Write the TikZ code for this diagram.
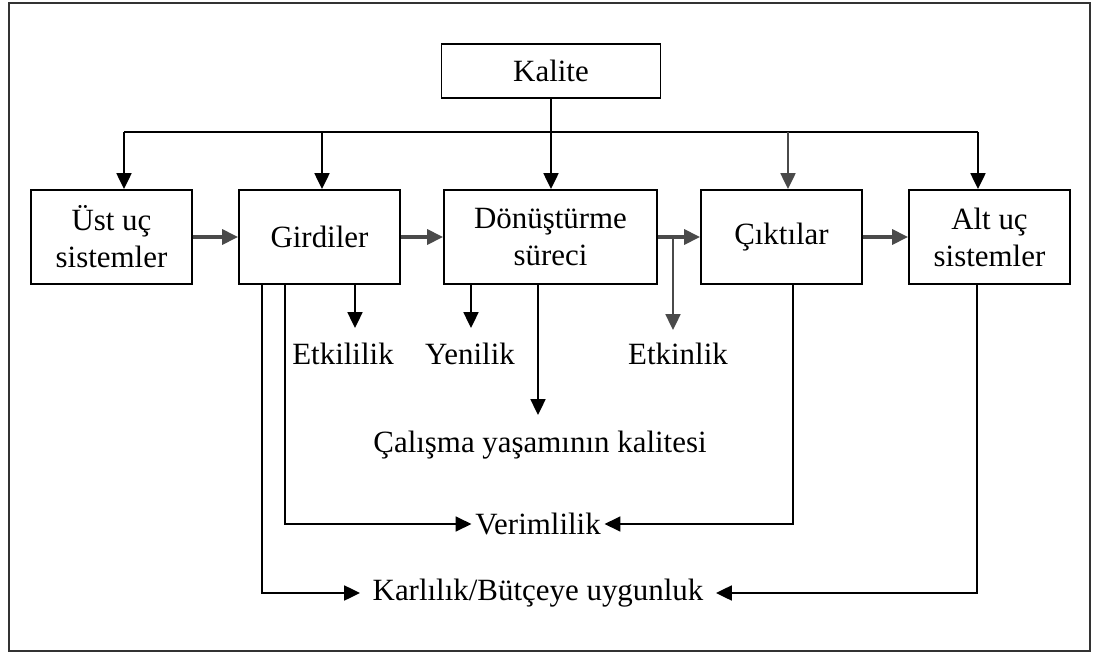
\documentclass[tikz,border=0pt]{standalone}
\usepackage{fontspec}
\setmainfont{Liberation Serif}
\usetikzlibrary{positioning,arrows.meta,calc}
\definecolor{flowGray}{HTML}{4A4A4A}
\definecolor{frameGray}{HTML}{333333}
\tikzset{
  sysbox/.style={draw, line width=1.1pt, minimum width=3.22cm,
                 minimum height=1.88cm, align=center, inner sep=2pt,
                 font=\fontsize{17.6}{21}\selectfont},
  lbl/.style={inner sep=2pt, font=\fontsize{17.6}{21}\selectfont},
  conn/.style={line width=1.1pt},
  arr/.style={conn, -{Triangle[length=9pt, width=8.5pt]}},
  flowarr/.style={line width=1.8pt, flowGray, -{Triangle[length=9pt, width=8.5pt]}},
}

\begin{document}
\begin{tikzpicture}[x=0.02cm, y=-0.02cm]
\useasboundingbox (0,0) rectangle (1096,659);
\draw[line width=1.5pt, frameGray] (9,3) rectangle (1090,651);

%% Boxes
\node[sysbox, minimum width=4.38cm, minimum height=1.08cm] (kalite) at (551,71) {Kalite};
\node[sysbox] (ust)   at (111.5,237) {Üst uç\\sistemler};
\node[sysbox] (gir)   at (319.5,237) {Girdiler};
\node[sysbox, minimum width=4.26cm] (donus) at (550.5,237) {Dönüştürme\\süreci};
\node[sysbox] (cikti) at (781.5,237) {Çıktılar};
\node[sysbox] (alt)   at (989.5,237) {Alt uç\\sistemler};

%% Labels
\node[lbl] (etkl)  at (343,354) {Etkililik};
\node[lbl] (yeni)  at (470,354) {Yenilik};
\node[lbl] (etkn)  at (678,354) {Etkinlik};
\node[lbl] (calis) at (540,445) {Çalışma yaşamının kalitesi};
\node[lbl] (verim) at (538,524) {Verimlilik};
\node[lbl, inner xsep=7pt] (karli) at (538,593) {Karlılık/Bütçeye uygunluk};

%% Kalite bus
\coordinate (busL) at (124,132);
\coordinate (busR) at (978,132);
\draw[arr] (kalite.south) -- (kalite.south |- donus.north);
\draw[conn] (busL) -- (busR);
\foreach \n/\x in {ust/124, gir/322, alt/978} {
  \coordinate (d\n) at (\x,132);
  \draw[arr] (d\n) -- (d\n |- \n.north);
}
\coordinate (dcikti) at (788,132);
\draw[arr, flowGray] (dcikti) -- (dcikti |- cikti.north);

%% Main flow
\draw[flowarr] (ust.east) -- (gir.west);
\draw[flowarr] (gir.east) -- (donus.west);
\draw[flowarr] (donus.east) -- (cikti.west);
\draw[flowarr] (cikti.east) -- (alt.west);

%% Outcomes
\coordinate (etklTip)  at (355,328);
\coordinate (yeniTip)  at (471,328);
\coordinate (etknTip)  at (673,330);
\coordinate (calisTip) at (538,415);
\draw[arr] (etklTip |- gir.south) -- (etklTip);
\draw[arr] (yeniTip |- donus.south) -- (yeniTip);
\draw[arr, flowGray] (etknTip |- donus.east) -- (etknTip);
\draw[arr] (calisTip |- donus.south) -- (calisTip);

\coordinate (verL) at (285,0);
\coordinate (verR) at (793,0);
\draw[arr] (verL |- gir.south) |- (verim.west);
\draw[arr] (verR |- cikti.south) |- (verim.east);

\coordinate (karL) at (262,0);
\coordinate (karR) at (977,0);
\draw[arr] (karL |- gir.south) |- (karli.west);
\draw[arr] (karR |- alt.south) |- (karli.east);
\end{tikzpicture}
\end{document}
